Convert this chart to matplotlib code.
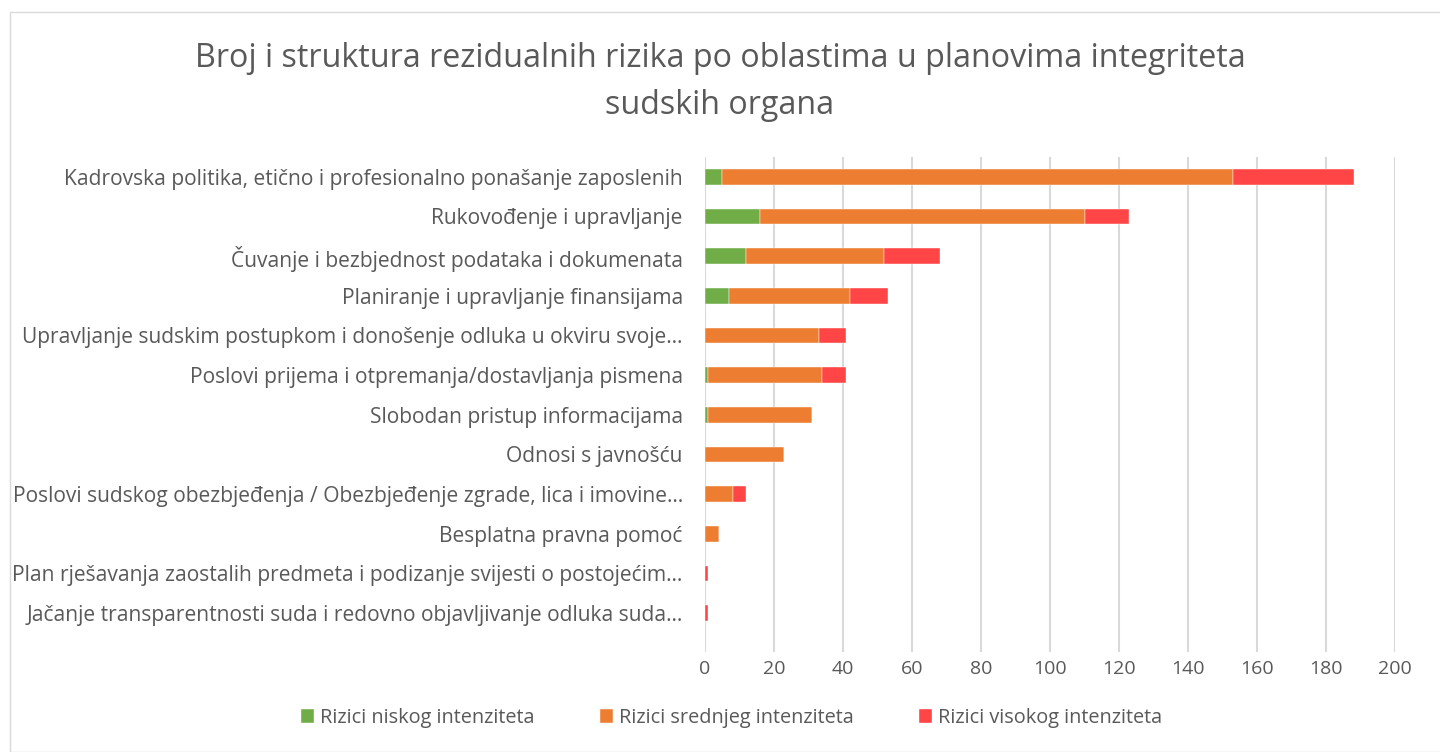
import matplotlib.pyplot as plt
from matplotlib.patches import Rectangle

categories = [
    "Kadrovska politika, etično i profesionalno ponašanje zaposlenih",
    "Rukovođenje i upravljanje",
    "Čuvanje i bezbjednost podataka i dokumenata",
    "Planiranje i upravljanje finansijama",
    "Upravljanje sudskim postupkom i donošenje odluka u okviru svoje…",
    "Poslovi prijema i otpremanja/dostavljanja pismena",
    "Slobodan pristup informacijama",
    "Odnosi s javnošću",
    "Poslovi sudskog obezbjeđenja / Obezbjeđenje zgrade, lica i imovine…",
    "Besplatna pravna pomoć",
    "Plan rješavanja zaostalih predmeta i podizanje svijesti o postojećim…",
    "Jačanje transparentnosti suda i redovno objavljivanje odluka suda…",
]
low = [5, 16, 12, 7, 0, 1, 1, 0, 0, 0, 0, 0]
medium = [148, 94, 40, 35, 33, 33, 30, 23, 8, 4, 0, 0]
high = [35, 13, 16, 11, 8, 7, 0, 0, 4, 0, 1, 1]
series_names = ["Rizici niskog intenziteta", "Rizici srednjeg intenziteta", "Rizici visokog intenziteta"]
colors = ["#70AD47", "#ED7D31", "#FF4545"]
xticks = list(range(0, 201, 20))

plt.rcParams['font.family'] = ['Open Sans', 'DejaVu Sans']
text_color = "#595959"

fig = plt.figure(figsize=(14.4, 7.52), dpi=100)
ax = fig.add_axes([705 / 1440, 1 - 652 / 752, 690 / 1440, (652 - 157) / 752])

ypos = list(range(len(categories) - 1, -1, -1))
left = [0] * len(categories)
for vals, name, c in zip([low, medium, high], series_names, colors):
    ax.barh(ypos, vals, left=left, height=0.4, color=c, label=name,
            edgecolor="white", linewidth=0.3, zorder=3)
    left = [a + b for a, b in zip(left, vals)]

ax.set_yticks(ypos)
ax.set_yticklabels(categories, fontsize=15.1, color=text_color)
ax.set_xticks(xticks)
ax.set_xticklabels([str(t) for t in xticks], fontsize=14, color=text_color)
ax.set_xlim(0, 200)
ax.set_ylim(-0.5 - (652 - 633) / 39.6, len(categories) - 0.5)
ax.grid(axis="x", color="#D9D9D9", linewidth=1.5, zorder=0)
ax.tick_params(axis="y", length=0, pad=16)
ax.tick_params(axis="x", length=0, pad=6)
for s in ax.spines.values():
    s.set_visible(False)

fig.suptitle("Broj i struktura rezidualnih rizika po oblastima u planovima integriteta\nsudskih organa",
             x=0.5, y=1 - 42 / 752, va="top", fontsize=23.2, color=text_color, linespacing=1.55)

fig.legend(loc="center", bbox_to_anchor=(0.508, 1 - 718 / 752), ncol=3, frameon=False,
           fontsize=14.3, handlelength=0.65, handleheight=0.65, handletextpad=0.3,
           columnspacing=3.3, labelcolor=text_color)

fig.patches.append(Rectangle((10 / 1440, 0), 1.2, 1 - 12 / 752, transform=fig.transFigure,
                             fill=False, edgecolor="#D9D9D9", linewidth=1))

fig.savefig("out.png", dpi=100)
